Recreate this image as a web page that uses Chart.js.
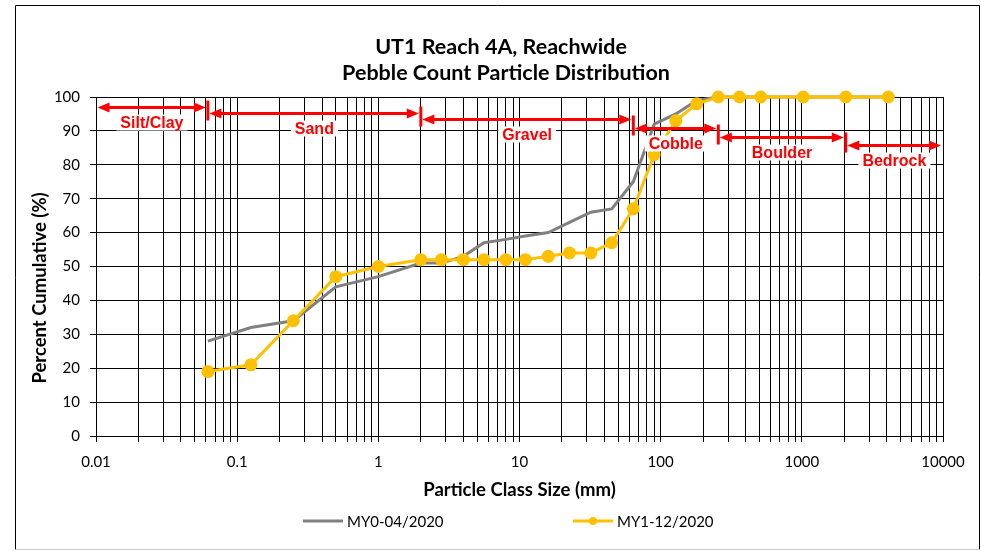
<!DOCTYPE html>
<html>
<head>
<meta charset="utf-8">
<script src="https://cdn.jsdelivr.net/npm/chart.js@4.4.1/dist/chart.umd.min.js"></script>
<style>
  html, body { margin: 0; padding: 0; background: #fff; }
  #chart { display: block; }
</style>
</head>
<body>
<canvas id="chart" width="981" height="551"></canvas>
<script>
/* UT1 Reach 4A pebble count - cumulative particle distribution */

// sieve sizes (mm) and cumulative percent for each survey
const sieveSizes = [0.062, 0.125, 0.25, 0.5, 1, 2, 2.8, 4, 5.6, 8, 11, 16, 22.6, 32, 45, 64, 90, 128, 180, 256, 362, 512, 1024, 2048, 4096];
const my0Values = [28, 32, 34, 44, 47, 51, 51, 53, 57, 58, 59, 60, 63, 66, 67, 75, 92, 95, 99, 100, 100, 100, 100, 100, 100];
const my1Values = [19, 21, 34, 47, 50, 52, 52, 52, 52, 52, 52, 53, 54, 54, 57, 67, 83, 93, 98, 100, 100, 100, 100, 100, 100];
const seriesNames = ['MY0-04/2020', 'MY1-12/2020'];

// axis ticks
const xMajorTicks = [0.01, 0.1, 1, 10, 100, 1000, 10000];
const xTickLabels = ['0.01', '0.1', '1', '10', '100', '1000', '10000'];
const xMinorSteps = [1, 2, 3, 4, 5, 6, 7, 8, 9];
const yTickStep = 10;

// particle size classes
const classNames = ['Silt/Clay', 'Sand', 'Gravel', 'Cobble', 'Boulder', 'Bedrock'];
const classBounds = [[0.01, 0.062], [0.062, 2], [2, 64], [64, 256], [256, 2048], [2048, 10000]];
const classArrowLevels = [97.1, 95.4, 93.4, 90.8, 88.3, 85.8];

const titleLines = ['UT1 Reach 4A, Reachwide', 'Pebble Count Particle Distribution'];

const colors = { grey: '#808080', gold: '#FFC000', red: '#FF0000', ink: '#000000' };
const FONT = 'Lato, "Liberation Sans", sans-serif';

const xGridValues = [];
for (let i = 0; i < xMajorTicks.length - 1; i++) {
  xMinorSteps.forEach(m => xGridValues.push(+(xMajorTicks[i] * m).toPrecision(3)));
}
xGridValues.push(xMajorTicks[xMajorTicks.length - 1]);

function xLabel(v) {
  const idx = xMajorTicks.findIndex(t => Math.abs(t - v) / t < 1e-6);
  return idx >= 0 ? xTickLabels[idx] : '';
}

const toPoints = vals => sieveSizes.map((s, i) => ({ x: s, y: vals[i] }));

const frame = {
  id: 'frame',
  beforeDraw(chart) {
    const { ctx } = chart;
    ctx.save();
    ctx.fillStyle = '#fff';
    ctx.fillRect(0, 0, chart.width, chart.height);
    ctx.restore();
  },
  afterDraw(chart) {
    const { ctx } = chart;
    ctx.save();
    ctx.lineWidth = 1;
    ctx.strokeStyle = '#000';
    ctx.beginPath();
    ctx.moveTo(15.5, 549.5); ctx.lineTo(15.5, 5.5); ctx.lineTo(979.5, 5.5); ctx.lineTo(979.5, 549.5);
    ctx.stroke();
    ctx.strokeStyle = '#d0d0d0';
    ctx.beginPath(); ctx.moveTo(15.5, 549.5); ctx.lineTo(979.5, 549.5); ctx.stroke();

    // chart title
    ctx.fillStyle = colors.ink;
    ctx.textAlign = 'center';
    ctx.textBaseline = 'middle';
    ctx.font = 'bold 21.5px ' + FONT;
    ctx.fillText(titleLines[0], 501, 47);
    ctx.fillText(titleLines[1], 506, 73);

    // y axis title
    ctx.font = 'bold 18.5px ' + FONT;
    ctx.translate(40, 288);
    ctx.rotate(-Math.PI / 2);
    ctx.fillText('Percent Cumulative (%)', 0, 0);
    ctx.restore();

    // legend
    ctx.save();
    ctx.font = '15px ' + FONT;
    ctx.textBaseline = 'middle';
    ctx.textAlign = 'left';
    const ly = 521;
    const items = [{ x: 303, color: colors.grey, marker: false }, { x: 573, color: colors.gold, marker: true }];
    items.forEach((it, i) => {
      ctx.strokeStyle = it.color;
      ctx.lineWidth = 3;
      ctx.beginPath(); ctx.moveTo(it.x, ly); ctx.lineTo(it.x + 40, ly); ctx.stroke();
      if (it.marker) {
        ctx.fillStyle = it.color;
        ctx.beginPath(); ctx.arc(it.x + 20, ly, 4, 0, Math.PI * 2); ctx.fill();
      }
      ctx.fillStyle = colors.ink;
      ctx.fillText(seriesNames[i], it.x + 44, ly + 1);
    });
    ctx.restore();
  }
};

const sizeClasses = {
  id: 'sizeClasses',
  afterDatasetsDraw(chart) {
    const { ctx, scales: { x, y } } = chart;
    ctx.save();
    ctx.strokeStyle = colors.red;
    ctx.fillStyle = colors.red;
    ctx.lineWidth = 3;
    const head = (tipX, yy, dir) => {
      ctx.beginPath();
      ctx.moveTo(tipX, yy);
      ctx.lineTo(tipX + dir * 12, yy - 5);
      ctx.lineTo(tipX + dir * 12, yy + 5);
      ctx.closePath();
      ctx.fill();
    };
    classNames.forEach((name, i) => {
      const x1 = x.getPixelForValue(classBounds[i][0]);
      const x2 = x.getPixelForValue(classBounds[i][1]);
      const yy = Math.round(y.getPixelForValue(classArrowLevels[i])) + 0.5;
      const l = x1 + 1.5, r = x2 - 2;
      ctx.strokeStyle = colors.red;
      ctx.fillStyle = colors.red;
      ctx.beginPath(); ctx.moveTo(l + 8, yy); ctx.lineTo(r - 8, yy); ctx.stroke();
      head(l, yy, 1);
      head(r, yy, -1);
      if (i > 0) {
        ctx.beginPath(); ctx.moveTo(x1, yy - 13); ctx.lineTo(x1, yy + 7); ctx.stroke();
      }
      // label with white box
      const mid = x.getPixelForValue(Math.sqrt(classBounds[i][0] * classBounds[i][1]));
      const ty = yy + 15;
      ctx.font = 'bold 16px "Liberation Sans", Arial, sans-serif';
      const w = ctx.measureText(name).width;
      ctx.fillStyle = '#fff';
      ctx.fillRect(mid - w / 2 - 4, ty - 8, w + 8, 16);
      ctx.fillStyle = colors.red;
      ctx.textAlign = 'center';
      ctx.textBaseline = 'middle';
      ctx.fillText(name, mid, ty + 1);
    });
    ctx.restore();
  }
};

Chart.defaults.font.family = FONT;
Chart.defaults.color = colors.ink;

new Chart(document.getElementById('chart'), {
  type: 'line',
  data: {
    datasets: [
      {
        label: seriesNames[0],
        data: toPoints(my0Values),
        borderColor: colors.grey,
        backgroundColor: colors.grey,
        borderWidth: 3,
        pointRadius: 0,
        tension: 0,
        clip: false,
        order: 2
      },
      {
        label: seriesNames[1],
        data: toPoints(my1Values),
        borderColor: colors.gold,
        backgroundColor: colors.gold,
        pointBackgroundColor: colors.gold,
        pointBorderColor: colors.gold,
        borderWidth: 3,
        pointRadius: 5,
        tension: 0,
        clip: false,
        order: 1
      }
    ]
  },
  options: {
    responsive: false,
    animation: false,
    layout: { padding: { left: 15, right: 38, top: 97, bottom: 47 } },
    plugins: {
      legend: { display: false },
      tooltip: { enabled: false },
      title: { display: false }
    },
    scales: {
      x: {
        type: 'logarithmic',
        min: 0.01,
        max: 10000,
        afterBuildTicks: s => { s.ticks = xGridValues.map(v => ({ value: v })); },
        afterFit: s => { s.height = 68; },
        ticks: {
          autoSkip: false,
          maxRotation: 0,
          minRotation: 0,
          padding: 11,
          font: { size: 15 },
          color: colors.ink,
          callback: v => xLabel(v)
        },
        grid: { color: '#000', lineWidth: 1, tickLength: 6 },
        border: { color: '#000', width: 1 },
        title: {
          display: true,
          text: 'Particle Class Size (mm)',
          font: { size: 18.5, weight: 'bold' },
          color: colors.ink,
          padding: { top: 0, bottom: 3 }
        }
      },
      y: {
        min: 0,
        max: 100,
        afterFit: s => { s.width = 81; },
        ticks: { stepSize: yTickStep, padding: 10, font: { size: 15 }, color: colors.ink },
        grid: { color: '#000', lineWidth: 1, tickLength: 6 },
        border: { color: '#000', width: 1 }
      }
    }
  },
  plugins: [frame, sizeClasses]
});
</script>
</body>
</html>
